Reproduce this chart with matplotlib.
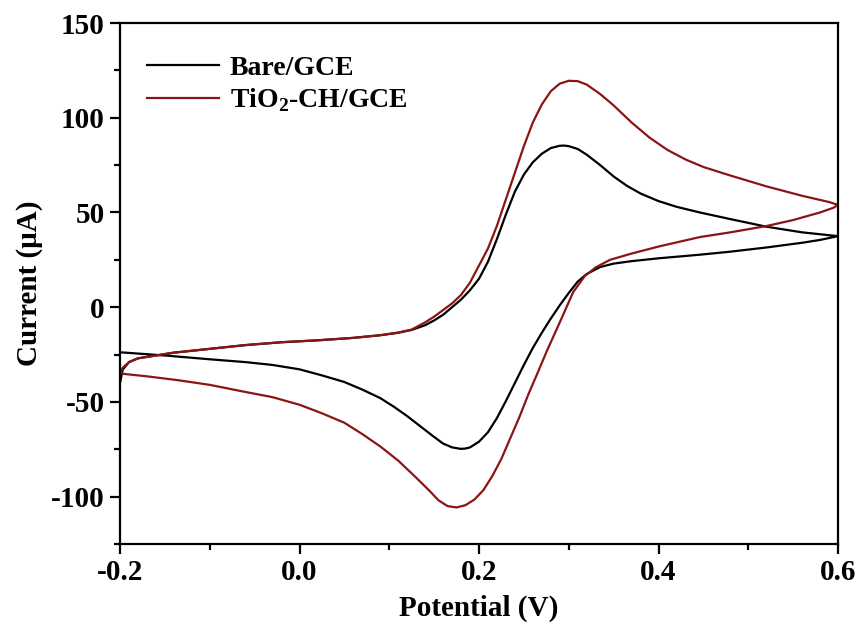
import matplotlib
matplotlib.use("Agg")
import matplotlib.pyplot as plt
from matplotlib.ticker import MultipleLocator

plt.rcParams['font.family'] = ['Liberation Serif', 'DejaVu Serif']
plt.rcParams['font.weight'] = 'bold'
plt.rcParams['mathtext.fontset'] = 'custom'
plt.rcParams['mathtext.rm'] = 'Liberation Serif:bold'
plt.rcParams['mathtext.bf'] = 'Liberation Serif:bold'

# Bare/GCE: forward sweep then reverse sweep
bare_v = [-0.200, -0.197, -0.190, -0.180, -0.160, -0.140, -0.120, -0.100, -0.060, -0.020,
          0.020, 0.060, 0.090, 0.110, 0.125, 0.140, 0.150, 0.160, 0.170, 0.180,
          0.190, 0.200, 0.210, 0.220, 0.230, 0.240, 0.250, 0.260, 0.270, 0.280,
          0.290, 0.295, 0.300, 0.310, 0.320, 0.335, 0.350, 0.365, 0.380, 0.400,
          0.420, 0.446, 0.480, 0.520, 0.560, 0.600,
          0.580, 0.560, 0.520, 0.480, 0.446, 0.400, 0.370, 0.350, 0.335, 0.320,
          0.310, 0.300, 0.290, 0.280, 0.270, 0.260, 0.250, 0.240, 0.230, 0.220,
          0.210, 0.200, 0.190, 0.185, 0.180, 0.170, 0.160, 0.150, 0.135, 0.120,
          0.105, 0.090, 0.070, 0.050, 0.025, 0.000, -0.030, -0.060, -0.100, -0.150,
          -0.200]
bare_i = [-40.0, -33.0, -29.0, -27.0, -25.5, -24.0, -23.0, -22.0, -20.0, -18.5,
          -17.5, -16.2, -14.8, -13.5, -12.0, -9.5, -7.0, -4.0, 0.0, 4.0,
          9.0, 15.0, 24.0, 36.0, 49.0, 61.0, 70.0, 76.5, 81.0, 84.0,
          85.2, 85.3, 85.0, 83.5, 80.5, 75.0, 69.0, 64.0, 60.0, 56.0,
          53.0, 50.0, 46.5, 42.5, 39.5, 37.5,
          35.5, 34.0, 31.5, 29.3, 27.7, 25.8, 24.3, 23.0, 21.2, 17.5,
          13.5, 7.5, 1.0, -6.0, -13.5, -21.5, -30.5, -40.0, -49.5, -58.5,
          -66.0, -71.0, -74.0, -74.6, -74.8, -74.0, -72.0, -68.5, -63.0, -57.5,
          -52.5, -48.0, -43.5, -39.5, -36.0, -32.8, -30.5, -29.0, -27.5, -25.5,
          -23.8]

# TiO2-CH/GCE: forward sweep then reverse sweep
tio2_v = [-0.200, -0.197, -0.190, -0.180, -0.160, -0.140, -0.120, -0.100, -0.060, -0.020,
          0.020, 0.060, 0.090, 0.110, 0.125, 0.140, 0.150, 0.160, 0.170, 0.180,
          0.190, 0.200, 0.210, 0.220, 0.230, 0.240, 0.250, 0.260, 0.270, 0.280,
          0.290, 0.300, 0.310, 0.320, 0.335, 0.350, 0.370, 0.390, 0.410, 0.430,
          0.450, 0.480, 0.520, 0.560, 0.590, 0.600,
          0.595, 0.580, 0.550, 0.520, 0.480, 0.446, 0.400, 0.370, 0.346, 0.330,
          0.318, 0.305, 0.290, 0.276, 0.265, 0.255, 0.245, 0.235, 0.225, 0.215,
          0.205, 0.195, 0.185, 0.175, 0.165, 0.155, 0.145, 0.130, 0.110, 0.090,
          0.070, 0.050, 0.025, 0.000, -0.030, -0.063, -0.100, -0.136, -0.170, -0.200]
tio2_i = [-35.0, -32.0, -29.0, -27.0, -25.5, -24.0, -23.0, -22.0, -20.0, -18.5,
          -17.5, -16.2, -14.8, -13.4, -11.8, -8.0, -5.0, -1.5, 2.0, 6.5,
          13.0, 22.0, 31.0, 43.0, 57.0, 71.0, 85.0, 97.5, 107.0, 114.0,
          118.0, 119.5, 119.3, 117.5, 112.5, 106.5, 97.5, 89.5, 83.0, 78.0,
          74.0, 69.5, 63.8, 58.8, 55.5, 54.0,
          52.5, 50.0, 46.0, 42.8, 39.5, 37.0, 32.0, 28.3, 25.0, 21.0,
          16.5, 8.0, -8.0, -22.7, -35.0, -46.0, -58.0, -69.0, -80.0, -89.0,
          -96.5, -101.5, -104.5, -105.7, -105.0, -102.0, -97.0, -90.0, -81.0, -73.5,
          -67.0, -61.0, -56.0, -51.5, -47.5, -44.5, -41.0, -38.5, -36.5, -35.0]

fig = plt.figure(figsize=(8.61, 6.32), dpi=100)
ax = fig.add_axes([120/861, 1-544/632, (838-120)/861, (544-23)/632])

ax.plot(bare_v, bare_i, color='black', lw=1.6, label='Bare/GCE')
ax.plot(tio2_v, tio2_i, color='#8B1515', lw=1.6, label=r'TiO$_{\mathbf{2}}$-CH/GCE')

ax.set_xlim(-0.2, 0.6)
ax.set_ylim(-125, 150)
ax.xaxis.set_minor_locator(MultipleLocator(0.1))
ax.yaxis.set_minor_locator(MultipleLocator(25))
ax.set_xticks([-0.2, 0.0, 0.2, 0.4, 0.6])
ax.set_xticklabels(['-0.2', '0.0', '0.2', '0.4', '0.6'])
ax.set_yticks([-100, -50, 0, 50, 100, 150])
ax.set_yticklabels(['-100', '-50', '0', '50', '100', '150'])

for s in ax.spines.values():
    s.set_linewidth(1.6)
ax.tick_params(which='major', direction='out', length=7, width=1.6, labelsize=21, pad=4)
ax.tick_params(which='minor', direction='out', length=4, width=1.6)
ax.tick_params(top=False, right=False, which='both')

ax.set_xlabel('Potential (V)', fontsize=21, fontweight='bold', labelpad=6)
ax.set_ylabel('Current (μA)', fontsize=21, fontweight='bold', labelpad=6)

leg = ax.legend(loc='upper left', bbox_to_anchor=(0.01, 0.975), frameon=False,
                fontsize=20, handlelength=2.6, handletextpad=0.4, labelspacing=0.2,
                borderaxespad=0.3)

fig.savefig('out.png', dpi=100)
